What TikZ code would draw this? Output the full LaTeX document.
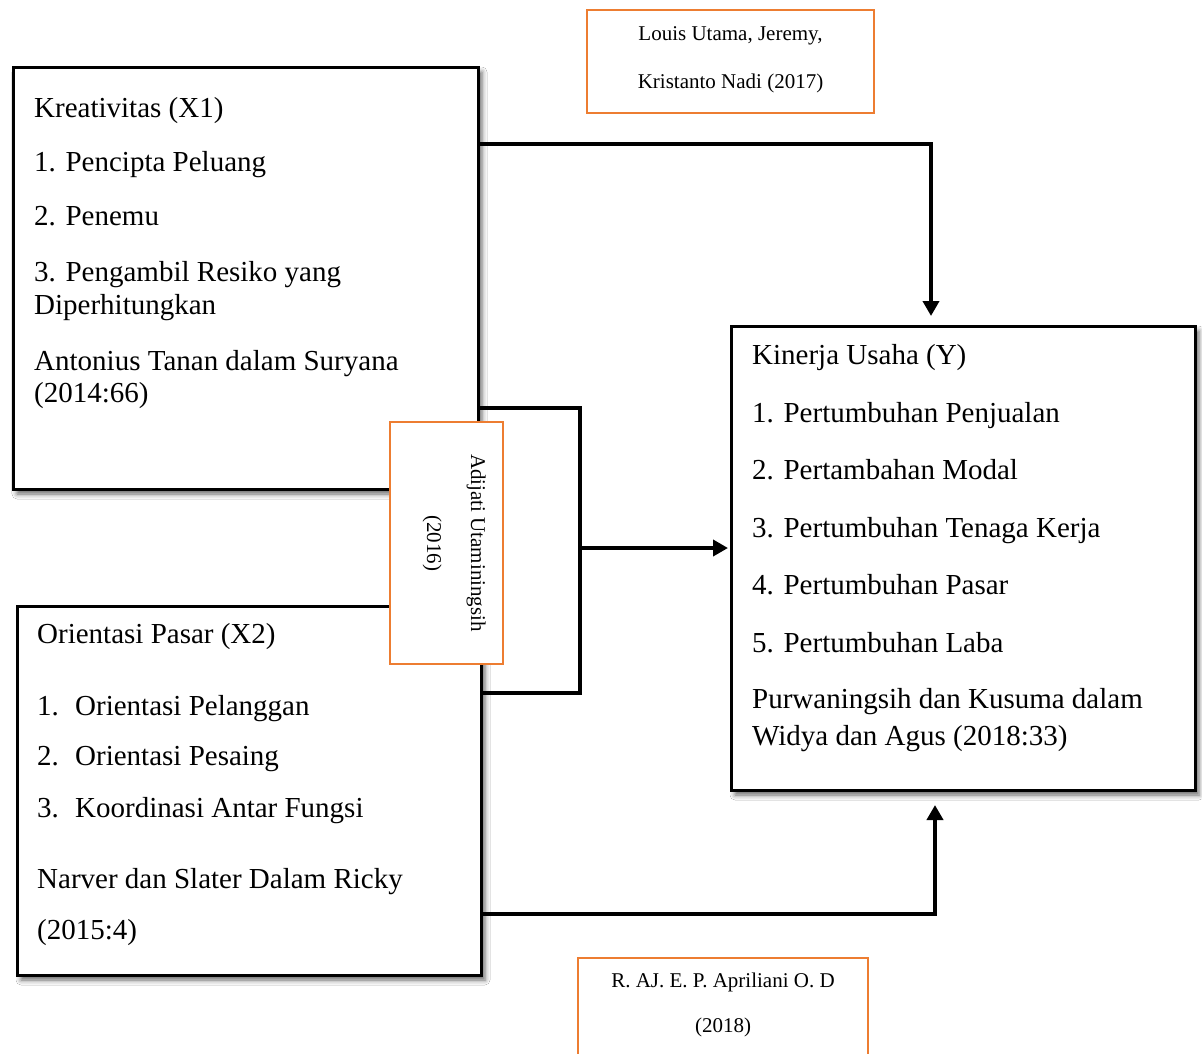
\documentclass[tikz,border=0pt]{standalone}
\usepackage{fontspec}
\setmainfont{Liberation Serif}
\usetikzlibrary{arrows.meta,shadows.blur}
\definecolor{orng}{HTML}{ED7D31}
\tikzset{
  box/.style={draw=black, line width=3pt, fill=white, outer sep=0pt, inner sep=0pt,
    blur shadow={shadow xshift=4pt, shadow yshift=-5pt, shadow blur radius=5pt, shadow opacity=60}},
  obox/.style={draw=orng, line width=2.5pt, fill=white, outer sep=0pt, inner sep=0pt},
  txt/.style={anchor=base west, inner sep=0pt, font=\fontsize{29}{34}\selectfont},
  otxt/.style={anchor=base, inner sep=0pt, font=\fontsize{21}{25}\selectfont},
  conn/.style={draw=black, line width=4pt},
  arr/.style={conn, -{Triangle[length=15pt,width=16pt]}}
}
\begin{document}
\begin{tikzpicture}[x=1pt,y=-1pt]
\clip (0,0) rectangle (1202,1053);
\fill[white] (0,0) rectangle (1202,1053);
% main boxes
\node[box, minimum width=465pt, minimum height=422pt] (x1) at (245.5,278) {};
\node[box, minimum width=464pt, minimum height=369pt] (x2) at (249,790.5) {};
\node[box, minimum width=464pt, minimum height=464pt] (y) at (963,558) {};
% texts X1
\node[txt] (x1t0) at (34,117) {Kreativitas (X1)};
\node[txt] (x1t1) at (34,171) {1. Pencipta Peluang};
\node[txt] (x1t2) at (34,225) {2. Penemu};
\node[txt] (x1t3) at (34,281) {3. Pengambil Resiko yang};
\node[txt] (x1t4) at (34,314) {Diperhitungkan};
\node[txt] (x1t5) at (34,370) {Antonius Tanan dalam Suryana};
\node[txt] (x1t6) at (34,402) {(2014:66)};
% texts X2
\node[txt] (x2t0) at (37,643) {Orientasi Pasar (X2)};
\node[txt] (x2n1) at (37,715) {1.};
\node[txt] (x2t1) at (75,715) {Orientasi Pelanggan};
\node[txt] (x2n2) at (37,765) {2.};
\node[txt] (x2t2) at (75,765) {Orientasi Pesaing};
\node[txt] (x2n3) at (37,817) {3.};
\node[txt] (x2t3) at (75,817) {Koordinasi Antar Fungsi};
\node[txt] (x2t4) at (37,888) {Narver dan Slater Dalam Ricky};
\node[txt] (x2t5) at (37,939) {(2015:4)};
% texts Y
\node[txt] (yt0) at (752,364) {Kinerja Usaha (Y)};
\node[txt] (yt1) at (752,422) {1. Pertumbuhan Penjualan};
\node[txt] (yt2) at (752,479) {2. Pertambahan Modal};
\node[txt] (yt3) at (752,537) {3. Pertumbuhan Tenaga Kerja};
\node[txt] (yt4) at (752,594) {4. Pertumbuhan Pasar};
\node[txt] (yt5) at (752,652) {5. Pertumbuhan Laba};
\node[txt] (yt6) at (752,708) {Purwaningsih dan Kusuma dalam};
\node[txt] (yt7) at (752,745) {Widya dan Agus (2018:33)};
% connectors
\coordinate (c1) at (931,144);
\draw[arr, shorten >=10pt] (x1.east |- c1) -| (y.north -| c1);
\coordinate (b1) at (580,408);
\coordinate (b2) at (580,693);
\coordinate (j) at (580,548);
\draw[conn] (x1.east |- b1) -- (b1) -- (b2) -- (x2.east |- b2);
\draw[arr, shorten >=3pt] (j) -- (y.west |- j);
\coordinate (c3) at (935,914);
\draw[arr, shorten >=15pt] (x2.east |- c3) -| (y.south -| c3);
% orange reference boxes
\node[obox, minimum width=287pt, minimum height=103pt] (o1) at (730.5,61.5) {};
\node[otxt] (o1a) at (730.5,40) {Louis Utama, Jeremy,};
\node[otxt] (o1b) at (730.5,88) {Kristanto Nadi (2017)};
\node[obox, minimum width=290pt, minimum height=120pt] (o2) at (723,1018) {};
\node[otxt] (o2a) at (723,987) {R. AJ. E. P. Apriliani O. D};
\node[otxt] (o2b) at (723,1032) {(2018)};
\node[obox, minimum width=113pt, minimum height=242pt] (o3) at (446.5,543) {};
\node[otxt, rotate=-90] (o3a) at (471,543) {Adijati Utaminingsih};
\node[otxt, rotate=-90] (o3b) at (427,543) {(2016)};
\end{tikzpicture}
\end{document}
